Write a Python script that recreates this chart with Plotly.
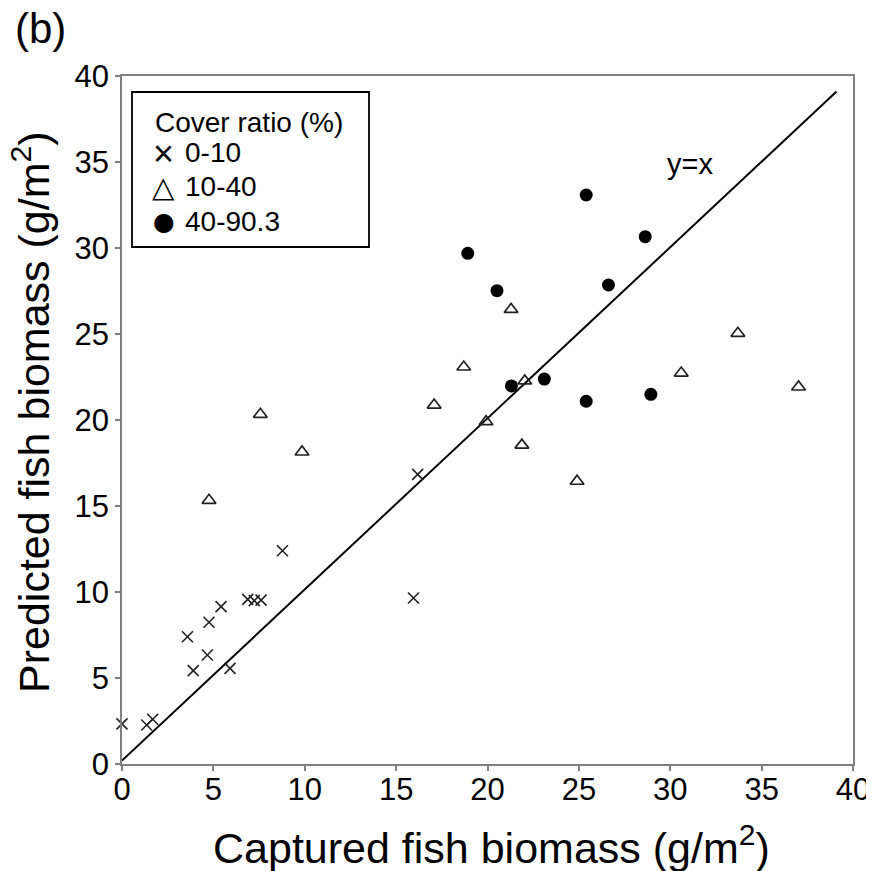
import plotly.graph_objects as go

# Data
cross_x = [0.0, 1.35, 1.68, 3.58, 3.9, 4.67, 4.76, 5.42, 5.91, 6.88, 7.24, 7.61, 8.78, 16.18, 15.95]
cross_y = [2.33, 2.27, 2.6, 7.4, 5.43, 6.34, 8.24, 9.15, 5.56, 9.57, 9.5, 9.53, 12.4, 16.84, 9.65]

tri_x = [7.57, 9.85, 4.76, 21.29, 18.7, 17.08, 22.04, 19.92, 21.88, 24.9, 30.6, 33.7, 37.02]
tri_y = [20.33, 18.14, 15.33, 26.43, 23.08, 20.87, 22.27, 19.9, 18.54, 16.44, 22.73, 25.04, 21.92]

circ_x = [18.92, 20.52, 25.4, 28.63, 26.62, 21.31, 23.11, 25.4, 28.94]
circ_y = [29.69, 27.52, 33.08, 30.66, 27.85, 21.98, 22.38, 21.09, 21.49]

line_x = [0.0, 39.1]
line_y = [0.2, 39.1]

ticks = [0, 5, 10, 15, 20, 25, 30, 35, 40]
legend_title = "Cover ratio (%)"
group_names = ["0-10", "10-40", "40-90.3"]
group_glyphs = ["\u00d7", "\u25b3", "\u25cf"]

FONT = "Liberation Sans, Arial, sans-serif"
SYMFONT = "DejaVu Sans, Liberation Sans, sans-serif"

# page offset (default body margin of the html page)
OFF = 8
# plot-area geometry in page px
Lp, Rp, Tp, Bp = 122, 853, 76, 764
FIG_W, FIG_H = 874 - OFF, 871 - OFF


def px(xp):
    return (xp - Lp) / (Rp - Lp)


def py(yp):
    return (Bp - yp) / (Bp - Tp)


fig = go.Figure()

fig.add_trace(go.Scatter(
    x=line_x, y=line_y, mode="lines",
    line=dict(color="black", width=2), showlegend=False, hoverinfo="skip"))

fig.add_trace(go.Scatter(
    x=cross_x, y=cross_y, mode="markers", name=group_names[0], showlegend=False,
    marker=dict(symbol="x-thin-open", size=11, color="#222222",
                line=dict(color="#222222", width=1.6)),
    cliponaxis=False))

fig.add_trace(go.Scatter(
    x=tri_x, y=tri_y, mode="markers", name=group_names[1], showlegend=False,
    marker=dict(symbol="triangle-up-open", size=12, color="#222222",
                line=dict(color="#222222", width=1.7)),
    cliponaxis=False))

fig.add_trace(go.Scatter(
    x=circ_x, y=circ_y, mode="markers", name=group_names[2], showlegend=False,
    marker=dict(symbol="circle", size=13, color="black",
                line=dict(color="black", width=0)),
    cliponaxis=False))

# y=x label
fig.add_annotation(x=31.1, y=34.9, xref="x", yref="y", text="y=x",
                   showarrow=False, font=dict(family=FONT, size=29, color="black"))

# panel label
fig.add_annotation(x=px(40), y=py(28), xref="paper", yref="paper", text="(b)",
                   showarrow=False, xanchor="center", yanchor="middle",
                   font=dict(family=FONT, size=42, color="black"))

# axis titles
fig.add_annotation(x=px(491), y=py(845), xref="paper", yref="paper",
                   text="Captured fish biomass (g/m<sup>2</sup>)", showarrow=False,
                   xanchor="center", yanchor="middle",
                   font=dict(family=FONT, size=43, color="black"))
fig.add_annotation(x=px(31), y=py(412), xref="paper", yref="paper",
                   text="Predicted fish biomass (g/m<sup>2</sup>)", showarrow=False,
                   textangle=-90, xanchor="center", yanchor="middle",
                   font=dict(family=FONT, size=43, color="black"))

# legend box
fig.add_shape(type="rect", xref="paper", yref="paper",
              x0=px(132), x1=px(369), y0=py(247), y1=py(92),
              line=dict(color="black", width=1.8), fillcolor="white", layer="below")
fig.add_annotation(x=px(153), y=py(122), xref="paper", yref="paper", text=legend_title,
                   showarrow=False, xanchor="left", yanchor="middle",
                   font=dict(family=FONT, size=28, color="black"))
row_y = [152, 187, 221]
sym_sizes = [36, 29, 25]
sym_dy = [1, 0, 0]
for name, glyph, yy, ss, dy in zip(group_names, group_glyphs, row_y, sym_sizes, sym_dy):
    fig.add_annotation(x=px(163.5), y=py(yy + dy), xref="paper", yref="paper", text=glyph,
                       showarrow=False, xanchor="center", yanchor="middle",
                       font=dict(family=SYMFONT if glyph != "\u00d7" else FONT,
                                 size=ss, color="black"))
    fig.add_annotation(x=px(183), y=py(yy), xref="paper", yref="paper", text=name,
                       showarrow=False, xanchor="left", yanchor="middle",
                       font=dict(family=FONT, size=28, color="black"))

axis_common = dict(
    range=[0, 40], tickmode="array", tickvals=ticks, ticktext=[str(t) for t in ticks],
    showgrid=False, zeroline=False, showline=True, mirror=True,
    linecolor="#808080", linewidth=1.5, ticks="outside", ticklen=5,
    tickcolor="#808080", tickwidth=1.5, automargin=False,
    tickfont=dict(family=FONT, size=31, color="black"),
)

fig.update_xaxes(**axis_common, ticklabelstandoff=-8)
fig.update_yaxes(**axis_common)

fig.update_layout(
    width=FIG_W, height=FIG_H,
    margin=dict(l=Lp - OFF, r=FIG_W - (Rp - OFF), t=Tp - OFF, b=FIG_H - (Bp - OFF)),
    plot_bgcolor="white", paper_bgcolor="white",
    font=dict(family=FONT, color="black"),
    showlegend=False,
)

fig.write_html("out.html")
